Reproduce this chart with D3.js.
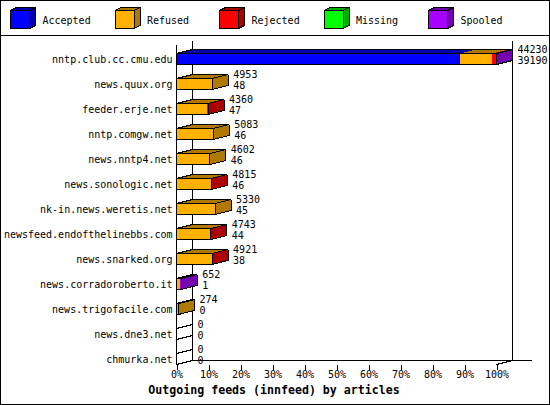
<!DOCTYPE html>
<html><head><meta charset="utf-8">
<script src="https://cdn.jsdelivr.net/npm/d3@7/dist/d3.min.js"></script>
<style>
html,body{margin:0;padding:0;background:#fff;}
svg{display:block;}
text{font-family:"DejaVu Sans Mono","Liberation Mono",monospace;fill:#000;}
</style></head>
<body>
<svg id="c" width="550" height="405"></svg>
<script>
const feeds = ["nntp.club.cc.cmu.edu","news.quux.org","feeder.erje.net","nntp.comgw.net","news.nntp4.net","news.sonologic.net","nk-in.news.weretis.net","newsfeed.endofthelinebbs.com","news.snarked.org","news.corradoroberto.it","news.trigofacile.com","news.dne3.net","chmurka.net"];
const offered  = [44230, 4953, 4360, 5083, 4602, 4815, 5330, 4743, 4921, 652, 274, 0, 0];
const accepted = [39190, 48, 47, 46, 46, 46, 45, 44, 38, 1, 0, 0, 0];
const refused  = [4370, 4905, 4233, 5037, 4556, 4709, 5285, 4639, 4823, 420, 274, 0, 0];
const rejected = [470, 0, 80, 0, 0, 60, 0, 60, 60, 0, 0, 0, 0];
const missing  = [0, 0, 0, 0, 0, 0, 0, 0, 0, 0, 0, 0, 0];
const spooled  = [200, 0, 0, 0, 0, 0, 0, 0, 0, 231, 0, 0, 0];
const seriesNames = ["Accepted","Refused","Rejected","Missing","Spooled"];
const seriesColors = ["#0000ff","#ffb000","#ff0000","#00ff00","#a800ff"];
const pctTicks = [0,10,20,30,40,50,60,70,80,90,100];
const title = "Outgoing feeds (innfeed) by articles";

const series = [accepted, refused, rejected, missing, spooled];
const dark = c => d3.rgb(c).darker(1.05).formatHex();

const svg = d3.select("#c").attr("shape-rendering","crispEdges");
const W = 550, H = 405;
const DX = 16, DY = 4, HALF = 5.5;

// frame
svg.append("rect").attr("x",0.5).attr("y",0.5).attr("width",W-1).attr("height",H-1)
  .attr("fill","#fff").attr("stroke","#000");
svg.append("line").attr("x1",0).attr("x2",W).attr("y1",35.5).attr("y2",35.5).attr("stroke","#000");

// legend
const leg = svg.append("g");
seriesNames.forEach((n,i)=>{
  const x = 10.5 + 104.5*i, y = 10.5, w = 19, h = 18, dx = 6, dy = 3;
  const c = seriesColors[i];
  const g = leg.append("g");
  g.append("polygon").attr("points",`${x},${y} ${x+dx},${y-dy} ${x+w+dx},${y-dy} ${x+w},${y}`)
    .attr("fill",dark(c)).attr("stroke","#000");
  g.append("polygon").attr("points",`${x+w},${y} ${x+w+dx},${y-dy} ${x+w+dx},${y+h-dy} ${x+w},${y+h}`)
    .attr("fill",dark(c)).attr("stroke","#000");
  g.append("rect").attr("x",x).attr("y",y).attr("width",w).attr("height",h)
    .attr("fill",c).attr("stroke","#000");
  g.append("text").attr("x",x+32).attr("y",24).attr("font-size",10).text(n);
});

// scales
const maxTot = d3.max(offered);
const pct = d3.scaleLinear().domain([0,100]).range([176.5,496.5]);
const xv = v => pct(v/maxTot*100);
const y = d3.scalePoint().domain(feeds).range([59,359]);

const x0 = pct(0);
const floorY = y(feeds[feeds.length-1]) + HALF; // 364.5
// back walls
svg.append("line").attr("x1",x0+DX).attr("x2",x0+DX).attr("y1",40.5).attr("y2",floorY-DY).attr("stroke","#000");
svg.append("line").attr("x1",pct(100)+DX).attr("x2",pct(100)+DX).attr("y1",40.5).attr("y2",floorY-DY).attr("stroke","#000");
svg.append("line").attr("x1",x0+DX).attr("x2",532).attr("y1",floorY-DY).attr("y2",floorY-DY).attr("stroke","#000");
svg.append("line").attr("x1",x0).attr("x2",x0+DX).attr("y1",floorY).attr("y2",floorY-DY).attr("stroke","#000");
svg.append("line").attr("x1",pct(100)).attr("x2",pct(100)+DX).attr("y1",floorY).attr("y2",floorY-DY).attr("stroke","#000");
// front axis
svg.append("line").attr("x1",x0).attr("x2",x0).attr("y1",44.5).attr("y2",floorY).attr("stroke","#000");

// bars
const bars = svg.append("g");
feeds.forEach((f,i)=>{
  const cy = y(f), top = cy-HALF, bot = cy+HALF;
  const g = bars.append("g");
  let cum = 0, lastIdx = -1;
  series.forEach((s,k)=>{
    const v = s[i];
    if (v<=0) return;
    const a = xv(cum), b = xv(cum+v);
    cum += v; lastIdx = k;
    const c = seriesColors[k];
    g.append("rect").attr("x",a).attr("y",top).attr("width",b-a).attr("height",bot-top).attr("fill",c);
    g.append("polygon").attr("points",`${a},${top} ${b},${top} ${b+DX},${top-DY} ${a+DX},${top-DY}`).attr("fill",dark(c));
  });
  const e = xv(cum);
  if (lastIdx>=0){
    g.append("polygon").attr("points",`${e},${top} ${e+DX},${top-DY} ${e+DX},${bot-DY} ${e},${bot}`)
      .attr("fill",dark(seriesColors[lastIdx]));
  }
  g.append("path").attr("fill","none").attr("stroke","#000")
    .attr("d",`M${x0},${top}L${e},${top}L${e},${bot}L${x0},${bot}Z` +
      `M${x0},${top}L${x0+DX},${top-DY}L${e+DX},${top-DY}L${e},${top}` +
      `M${e+DX},${top-DY}L${e+DX},${bot-DY}L${e},${bot}`);
  g.append("text").attr("x",e+DX+5).attr("y",cy-6).attr("font-size",10).text(offered[i]);
  g.append("text").attr("x",e+DX+5).attr("y",cy+4.5).attr("font-size",10).text(accepted[i]);
  svg.append("text").attr("x",172.5).attr("y",cy+3.5).attr("text-anchor","end").attr("font-size",10).text(f);
});

// x axis
const ax = svg.append("g").attr("transform",`translate(0,${floorY})`)
  .call(d3.axisBottom(pct).tickValues(pctTicks).tickFormat(d=>d+"%").tickSize(5).tickSizeOuter(0));
ax.select(".domain").remove();
ax.selectAll("line").attr("stroke","#000");
ax.selectAll("text").attr("font-family","DejaVu Sans Mono, monospace").attr("font-size",10)
  .attr("fill","#000").attr("dy",null).attr("y",13);

svg.append("text").attr("x",274).attr("y",394).attr("text-anchor","middle")
  .attr("font-size",11.6).attr("font-weight","bold").text(title);
</script>
</body></html>
